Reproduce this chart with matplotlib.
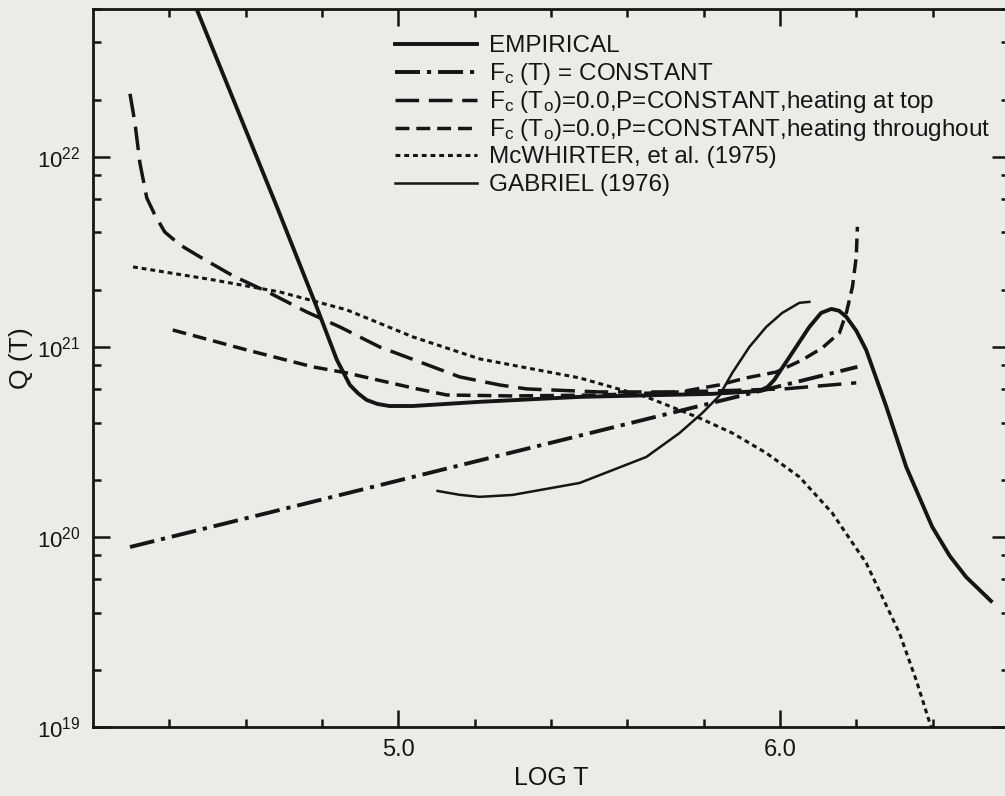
import numpy as np
import matplotlib
matplotlib.use("Agg")
import matplotlib.pyplot as plt
from matplotlib.ticker import LogLocator, NullFormatter

# curves: log T and log10 Q(T)
emp_logt = [4.455, 4.682, 4.786, 4.839, 4.873, 4.895, 4.917, 4.945, 4.977, 5.038, 5.213, 5.475,
            5.823, 5.946, 5.968, 5.985, 6.025, 6.077, 6.108, 6.135, 6.155, 6.174, 6.200, 6.226, 6.279,
            6.331, 6.399, 6.445, 6.488, 6.553]
emp_logq = [22.86, 21.737, 21.211, 20.932, 20.80, 20.755, 20.721, 20.700, 20.689, 20.689, 20.711, 20.737,
            20.753, 20.768, 20.790, 20.826, 20.947, 21.105, 21.179, 21.20, 21.19, 21.158, 21.085, 20.984, 20.684,
            20.368, 20.053, 19.90, 19.789, 19.663]

fct_logt = [4.297, 6.203]
fct_logq = [19.947, 20.895]

top_logt = [4.297, 4.310, 4.323, 4.341, 4.362, 4.388, 4.428, 4.480, 4.567, 4.663,
            4.760, 4.847, 4.951, 5.056, 5.161, 5.265, 5.336, 5.527, 5.737, 6.011, 6.20]
top_logq = [22.332, 22.179, 21.968, 21.784, 21.695, 21.605, 21.537, 21.474, 21.374, 21.284,
            21.184, 21.105, 21.0, 20.921, 20.842, 20.80, 20.779, 20.763, 20.763, 20.779, 20.811]

thr_logt = [4.409, 4.603, 4.776, 4.865, 5.038, 5.127, 5.299, 5.527, 5.737, 5.841,
            5.912, 5.991, 6.059, 6.111, 6.156, 6.174, 6.190, 6.200, 6.203]
thr_logq = [21.089, 20.984, 20.895, 20.863, 20.784, 20.747, 20.742, 20.747, 20.763, 20.80,
            20.837, 20.868, 20.932, 20.995, 21.074, 21.179, 21.316, 21.474, 21.632]

mcw_logt = [4.305, 4.514, 4.690, 4.865, 5.038, 5.213, 5.475, 5.650, 5.789, 5.875,
            5.964, 6.051, 6.137, 6.226, 6.313, 6.357, 6.396, 6.41]
mcw_logq = [21.421, 21.353, 21.289, 21.195, 21.053, 20.937, 20.837, 20.737, 20.626, 20.547,
            20.442, 20.316, 20.126, 19.863, 19.495, 19.247, 19.0, 18.9]

gab_logt = [5.103, 5.160, 5.213, 5.299, 5.475, 5.650, 5.737, 5.797, 5.841, 5.875, 5.920,
            5.964, 6.006, 6.051, 6.077]
gab_logq = [20.242, 20.222, 20.211, 20.221, 20.284, 20.421, 20.547, 20.653, 20.742, 20.863, 21.0,
            21.105, 21.179, 21.232, 21.237]

labels = ["EMPIRICAL",
          r"F$_{\rm c}$ (T) = CONSTANT",
          r"F$_{\rm c}$ (T$_{\rm o}$)=0.0,P=CONSTANT,heating at top",
          r"F$_{\rm c}$ (T$_{\rm o}$)=0.0,P=CONSTANT,heating throughout",
          "McWHIRTER, et al. (1975)",
          "GABRIEL (1976)"]

x_major = [5.0, 6.0]
x_minor = [4.4, 4.6, 4.8, 5.2, 5.4, 5.6, 5.8, 6.2, 6.4]

ink = "#151515"
paper = "#ebebe8"
plt.rcParams["lines.scale_dashes"] = False
plt.rcParams["font.family"] = "Liberation Sans"
plt.rcParams["mathtext.fontset"] = "custom"
plt.rcParams["mathtext.rm"] = "Liberation Sans"
plt.rcParams["mathtext.it"] = "Liberation Sans"

fig = plt.figure(figsize=(10.05, 7.96), dpi=100, facecolor=paper)
ax = fig.add_axes([0.0925, 0.0867, 0.9114, 0.902])
ax.set_facecolor(paper)

styles = [dict(lw=2.8),
          dict(lw=2.8, dashes=(18, 5, 3, 5)),
          dict(lw=2.5, dashes=(17, 7)),
          dict(lw=2.5, dashes=(10, 5)),
          dict(lw=2.2, dashes=(3.5, 2.8)),
          dict(lw=1.8)]
series = [(emp_logt, emp_logq), (fct_logt, fct_logq), (top_logt, top_logq),
          (thr_logt, thr_logq), (mcw_logt, mcw_logq), (gab_logt, gab_logq)]

for (lt, lq), st in zip(series, styles):
    ax.plot(lt, 10 ** np.array(lq), color=ink, **st)

ax.set_yscale("log")
ax.set_xlim(4.2, 6.6)
ax.set_ylim(1e19, 6e22)

ax.set_xticks(x_major)
ax.set_xticklabels(["5.0", "6.0"])
ax.set_xticks(x_minor, minor=True)
ax.yaxis.set_major_locator(LogLocator(base=10, numticks=10))
ax.yaxis.set_minor_locator(LogLocator(base=10, subs=(2, 4, 6, 8), numticks=10))
ax.yaxis.set_minor_formatter(NullFormatter())

ax.tick_params(which="both", direction="in", top=True, right=True,
               color=ink, labelcolor=ink, labelsize=17)
ax.tick_params(axis="y", labelsize=16)
ax.tick_params(which="major", length=12, width=1.8, pad=9)
ax.tick_params(which="minor", length=6, width=1.8)
for s in ax.spines.values():
    s.set_linewidth(2.0)
    s.set_color(ink)

ax.set_xlabel("LOG T", fontsize=18, color=ink, labelpad=3)
ax.set_ylabel("Q (T)", fontsize=19, color=ink)
ax.yaxis.set_label_coords(-0.066, 0.514)

# key, laid out by hand so the rows keep an even pitch
row_px = [44, 72, 100, 128, 155, 183]
for lab, st, ypx in zip(labels, styles, row_px):
    yf = (727 - ypx) / 718
    ax.plot([0.3297, 0.4192], [yf, yf], transform=ax.transAxes, color=ink,
            clip_on=False, **st)
    ax.text(0.4323, (727 - ypx - 8.5) / 718, lab, transform=ax.transAxes,
            fontsize=17.5, color=ink, va="baseline", ha="left")

fig.savefig("out.png", dpi=100, facecolor=paper)
